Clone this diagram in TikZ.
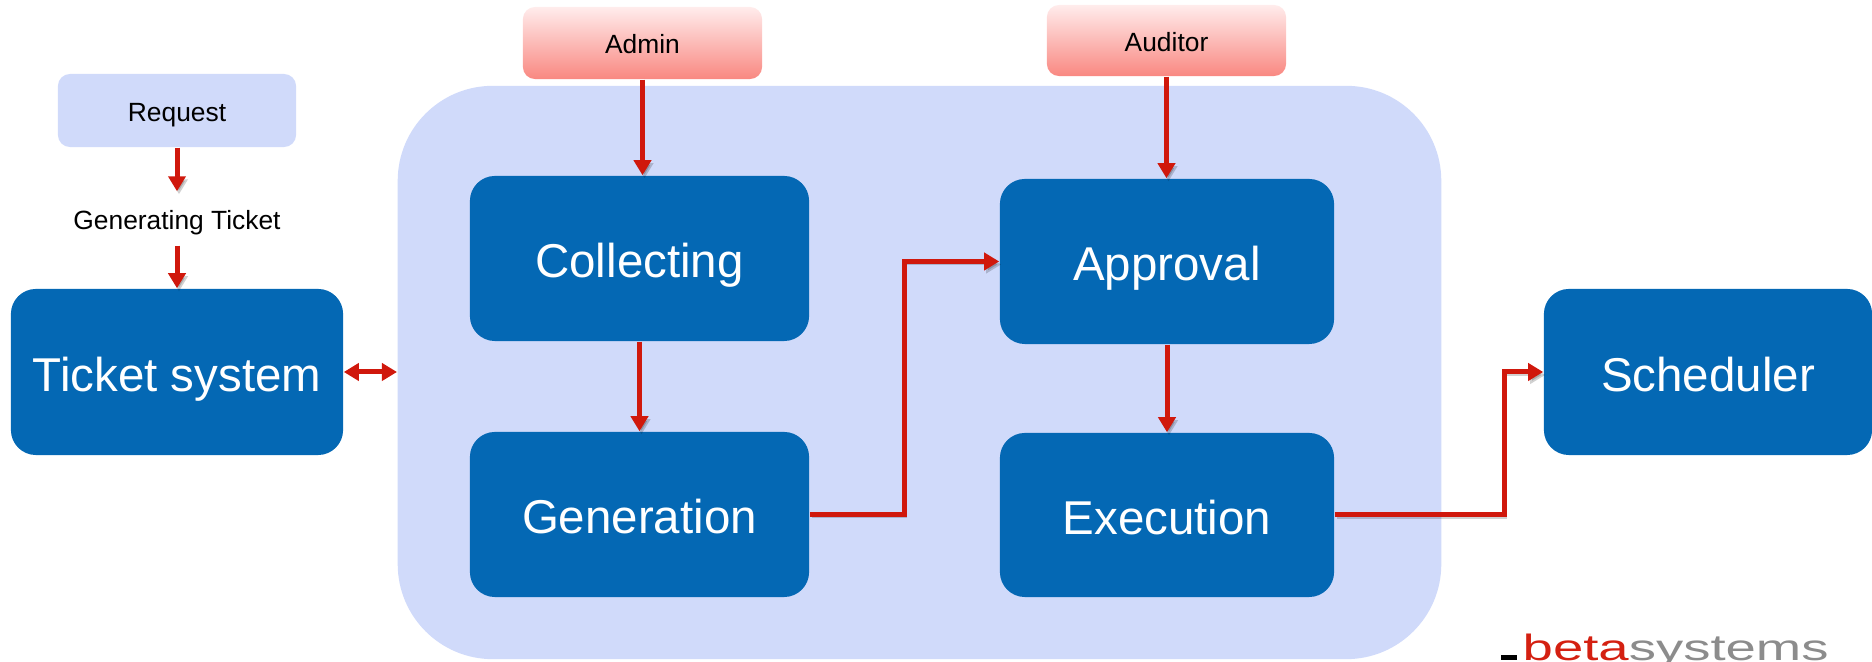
\documentclass[tikz,border=0pt]{standalone}
\usepackage{fontspec}
\usepackage{graphicx}
\setmainfont{Liberation Sans}
\usetikzlibrary{arrows.meta,calc}
\definecolor{boxblue}{RGB}{4,104,180}
\definecolor{paleblue}{RGB}{208,218,250}
\definecolor{arrowred}{RGB}{208,24,12}
\definecolor{pinktop}{RGB}{255,236,236}
\definecolor{pinkbot}{RGB}{249,136,129}
\definecolor{logored}{RGB}{212,32,17}
\definecolor{logogray}{RGB}{140,140,140}
\begin{document}
\begin{tikzpicture}[x=0.01cm,y=-0.01cm,
  bluebox/.style={fill=boxblue, rounded corners=0.25cm, text=white, font=\fontsize{13.5}{16}\selectfont, inner sep=0pt, text height=1.1em, text depth=0pt},
  palebox/.style={fill=paleblue, rounded corners=0.12cm, font=\fontsize{7.5}{9}\selectfont, inner sep=0pt, text height=0.62em, text depth=0pt},
  rolebox/.style={top color=pinktop, bottom color=pinkbot, rounded corners=0.12cm, font=\fontsize{7.5}{9}\selectfont, inner sep=0pt, text height=0.62em, text depth=0pt},
  plaintext/.style={font=\fontsize{7.5}{9}\selectfont, inner sep=0pt, text height=0.62em, text depth=0pt},
  redarrow/.style={draw=arrowred, line width=0.05cm, -{Triangle[width=0.17cm,length=0.15cm]},
    preaction={draw=black, opacity=0.18, transform canvas={shift={(0.02cm,-0.03cm)}}}},
  redboth/.style={draw=arrowred, line width=0.05cm, {Triangle[width=0.17cm,length=0.15cm]}-{Triangle[width=0.17cm,length=0.15cm]}},
]
\useasboundingbox (0,0) rectangle (1872,662);

% big background panel
\node[fill=paleblue, rounded corners=0.95cm, minimum width=10.43cm, minimum height=5.73cm, inner sep=0pt] (panel) at (919.5,372.5) {};

% left column
\node[palebox, minimum width=2.38cm, minimum height=0.73cm] (req) at (177,110.5) {Request};
\node[plaintext, minimum height=0.53cm] (gent) at (177,218.5) {Generating Ticket};
\node[bluebox, minimum width=3.32cm, minimum height=1.66cm] (ticket) at (177,372) {Ticket system};

% roles
\node[rolebox, minimum width=2.39cm, minimum height=0.72cm] (admin) at (642.5,43) {Admin};
\node[rolebox, minimum width=2.39cm, minimum height=0.71cm] (auditor) at (1166.5,40.5) {Auditor};

% process boxes
\node[bluebox, minimum width=3.39cm, minimum height=1.65cm] (coll) at (639.5,258.5) {Collecting};
\node[bluebox, minimum width=3.39cm, minimum height=1.65cm] (gen) at (639.5,514.5) {Generation};
\node[bluebox, minimum width=3.34cm, minimum height=1.65cm] (appr) at (1167,261.5) {Approval};
\node[bluebox, minimum width=3.34cm, minimum height=1.64cm] (exec) at (1167,515) {Execution};
\node[bluebox, minimum width=3.28cm, minimum height=1.66cm] (sched) at (1708,372) {Scheduler};

% connectors
\draw[redarrow] (req.south) -- (gent.north);
\draw[redarrow] (gent.south) -- (ticket.north);
\draw[redboth] (ticket.east) -- (ticket.east -| panel.west);
\draw[redarrow] (admin.south) -- (admin.south |- coll.north);
\draw[redarrow] (auditor.south) -- (auditor.south |- appr.north);
\draw[redarrow] (coll.south) -- (gen.north);
\draw[redarrow] (appr.south) -- (exec.north);
\coordinate (genmid) at ($(gen.east)!0.5!(appr.west |- gen.east)$);
\draw[redarrow] (gen.east) -- (genmid) |- (appr.west);
\coordinate (execmid) at ($(sched.west |- exec.east)+(-39,0)$);
\draw[redarrow] (exec.east) -- (execmid) |- (sched.west);

% logo
\fill[black] (1501,655) rectangle (1517,660);
\node[anchor=base west, inner sep=0pt, text=logogray, font=\fontsize{10.4}{12}\selectfont] (logo) at (1522,661) {\scalebox{1.49}[1]{\textcolor{logored}{beta}systems}};
\end{tikzpicture}
\end{document}
